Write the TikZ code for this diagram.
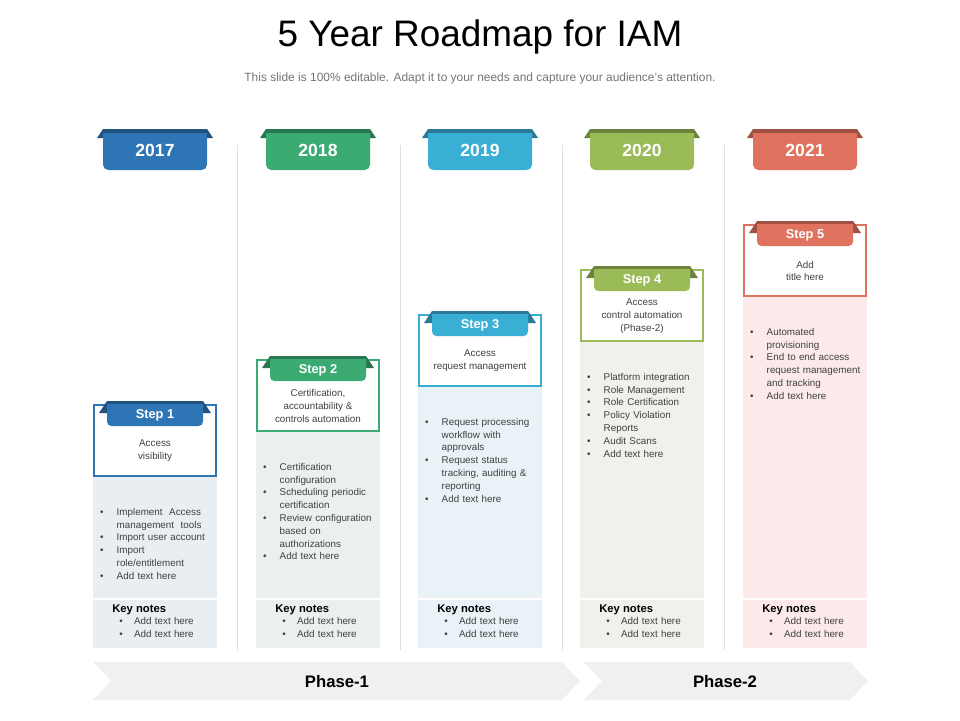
\documentclass[tikz,border=0pt]{standalone}
\usepackage{fontspec}
\setmainfont{Liberation Sans}
\usetikzlibrary{calc}
\definecolor{cA}{HTML}{2E75B6}\definecolor{bA}{HTML}{E9EEF3}
\definecolor{cB}{HTML}{3BAA73}\definecolor{bB}{HTML}{EAF1EC}
\definecolor{cC}{HTML}{3AAFD6}\definecolor{bC}{HTML}{E9F2F6}
\definecolor{cD}{HTML}{9BBB59}\definecolor{bD}{HTML}{F0F1EB}
\definecolor{cE}{HTML}{E0735F}\definecolor{bE}{HTML}{FBEAE9}
\newcommand{\bl}[1]{\par\hangindent=1.7em\hangafter=1\makebox[1.7em][l]{\textbullet}#1}
\tikzset{
  bodytext/.style={font=\fontsize{5.6}{7.3}\selectfont,text=black!75},
  listtext/.style={bodytext,text width=2.28cm,align=left,anchor=north,inner sep=0pt,
    execute at begin node={\hyphenpenalty=10000\exhyphenpenalty=10000}},
}
\begin{document}
\begin{tikzpicture}[x=0.02cm,y=-0.02cm]
	\useasboundingbox (0,0) rectangle (960,720);

	\node (title) at (480,37) {\fontsize{21}{24}\selectfont 5 Year Roadmap for IAM};
	\node (sub) at (480,78) {\fontsize{6.8}{8}\selectfont\color{black!55}This slide is 100\% editable. Adapt it to your needs and capture your audience's attention.};

	% separators
	\foreach \x in {237,400,562,724}
		\draw[black!12,thin] (\x,145) -- (\x,650);

	% columns
	\foreach \i/\cx/\yr/\col/\bg/\top/\head/\items in {
		1/155/2017/cA/bA/403/{Access\\visibility}/{\bl{Implement\ \ Access management\ \ tools}\bl{Import user account}\bl{Import role/entitlement}\bl{Add text here}},
		2/318/2018/cB/bB/358/{Certification,\\accountability \&\\controls automation}/{\bl{Certification configuration}\bl{Scheduling periodic certification}\bl{Review configuration based on authorizations}\bl{Add text here}},
		3/480/2019/cC/bC/313/{Access\\request management}/{\bl{Request processing workflow with approvals}\bl{Request status tracking, auditing \& reporting}\bl{Add text here}},
		4/642/2020/cD/bD/268/{Access\\control automation\\(Phase-2)}/{\bl{Platform integration}\bl{Role Management}\bl{Role Certification}\bl{Policy Violation Reports}\bl{Audit Scans}\bl{Add text here}},
		5/805/2021/cE/bE/223/{Add\\title here}/{\bl{Automated provisioning}\bl{End to end access request management and tracking}\bl{Add text here}}}
	{
		% year tab
		\fill[\col!70!black] (\cx-58,138) -- (\cx-52,129) -- (\cx+52,129) -- (\cx+58,138) -- cycle;
		\fill[\col] (\cx-52,133) -- (\cx+52,133) [rounded corners=3pt] -- (\cx+52,170) -- (\cx-52,170) [sharp corners] -- (\cx-52,133) -- cycle;
		\node[font=\bfseries\fontsize{10}{12}\selectfont,text=white] (yr\i) at (\cx,150) {\yr};

		% panels
		\fill[\bg] (\cx-62,\top+74) rectangle (\cx+62,598);
		\fill[\bg] (\cx-62,600) rectangle (\cx+62,648);

		% step box
		\draw[\col,line width=1.6pt,fill=white] (\cx-61,\top+2) rectangle (\cx+61,\top+73);
		\fill[\col!70!black] (\cx-56,\top+10) -- (\cx-48,\top-2) -- (\cx+48,\top-2) -- (\cx+56,\top+10) -- cycle;
		\fill[\col] (\cx-48,\top+1) -- (\cx+48,\top+1) [rounded corners=2.5pt] -- (\cx+48,\top+23) -- (\cx-48,\top+23) [sharp corners] -- (\cx-48,\top+1) -- cycle;
		\node[font=\bfseries\fontsize{7.3}{9}\selectfont,text=white] (st\i) at (\cx,\top+12) {Step \i};
		\node[bodytext,align=center] (hd\i) at (\cx,\top+48) {\head};

		% bullets
		\node[listtext] (ls\i) at (\cx+2,\top+99) {\items};

		% key notes
		\node[font=\bfseries\fontsize{6.4}{8}\selectfont,anchor=west,inner sep=0pt] (kn\i) at (\cx-43,610) {Key notes};
		\node[bodytext,anchor=north west,inner sep=0pt,text width=2cm] (kl\i) at (\cx-36,617.5)
			{\makebox[1.5em][l]{\textbullet}Add text here\\\makebox[1.5em][l]{\textbullet}Add text here};
	}

	% phases
	\fill[black!6] (93,662) -- (562,662) -- (580,681) -- (562,700) -- (93,700) -- (111,681) -- cycle;
	\fill[black!6] (584,662) -- (850,662) -- (868,681) -- (850,700) -- (584,700) -- (602,681) -- cycle;
	\node[font=\bfseries\fontsize{9.5}{11}\selectfont] (ph1) at (337,682) {Phase-1};
	\node[font=\bfseries\fontsize{9.5}{11}\selectfont] (ph2) at (725,682) {Phase-2};
\end{tikzpicture}
\end{document}
